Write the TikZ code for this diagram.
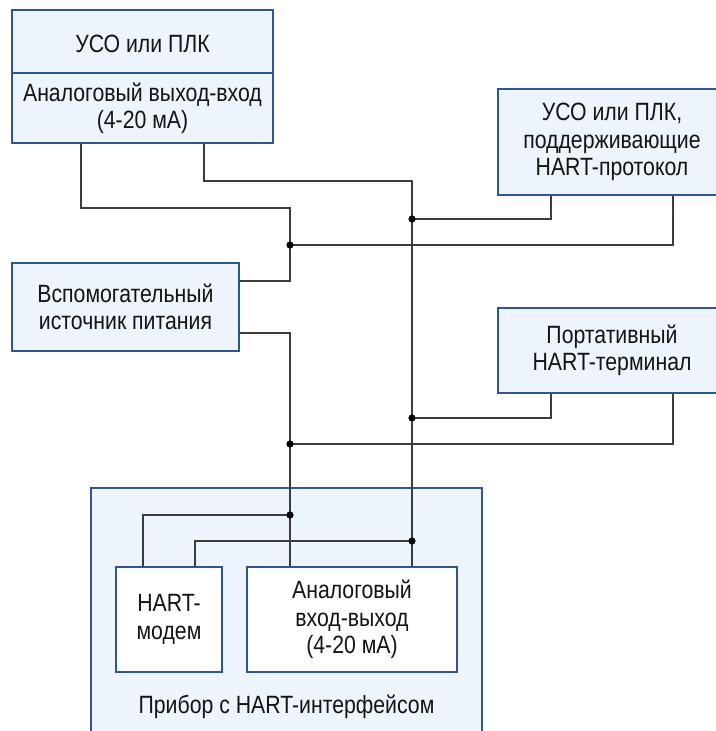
\documentclass[tikz,border=0pt]{standalone}
\usepackage{fontspec}
\setmainfont{Liberation Sans}[FakeStretch=0.85]
\definecolor{boxblue}{HTML}{2D5699}
\definecolor{boxfill}{HTML}{EDF4FC}
\definecolor{wire}{HTML}{3C3C3C}
\definecolor{txt}{HTML}{141414}
\begin{document}
\begin{tikzpicture}[x=1pt,y=-1pt,
  every node/.style={text=txt,font=\fontsize{25}{27.5}\selectfont,inner sep=0pt},
  blk/.style={draw=boxblue,fill=boxfill,line width=2.8pt,inner sep=0pt},
  inblk/.style={draw=boxblue,fill=white,line width=2.8pt,inner sep=0pt},
  wirel/.style={draw=wire,line width=1.5pt},
  dotj/.style={fill=black}]
\useasboundingbox (0,0) rectangle (715,731);
% device outer box
\node[blk,minimum width=391pt,minimum height=252pt] (dev) at (286.5,614) {};
\node (devlbl) at (286.5,707) {Прибор с HART-интерфейсом};
% top left box
\node[blk,minimum width=261pt,minimum height=133pt] (box1) at (142.5,76.5) {};
\draw[draw=boxblue,line width=2.8pt] (box1.west |- 0,73) -- (box1.east |- 0,73);
\node (t1) at (142.5,44) {УСО или ПЛК};
\node[align=center] (t2) at (142.5,108.5) {Аналоговый выход-вход\\(4-20 мА)};
% right boxes
\node[blk,minimum width=228pt,minimum height=106pt,align=center] (box2) at (612,142) {УСО или ПЛК,\\поддерживающие\\HART-протокол};
\node[blk,minimum width=228pt,minimum height=85pt,align=center] (box3) at (612,350.5) {Портативный\\HART-терминал};
% aux supply
\node[blk,minimum width=227pt,minimum height=88pt,align=center] (aux) at (125.5,307) {Вспомогательный\\источник питания};
% column coordinates
\coordinate (xA) at (81,0);
\coordinate (xB) at (204,0);
\coordinate (xC) at (290,0);
\coordinate (xD) at (412,0);
\coordinate (xE) at (551,0);
\coordinate (xF) at (673,0);
\coordinate (xG) at (143,0);
\coordinate (xH) at (195,0);
% corners and junctions
\coordinate (k1) at (290,208);
\coordinate (k2) at (412,181);
\coordinate (auxT) at (239,281);
\coordinate (auxB) at (239,333);
\coordinate (j1) at (290,245);
\coordinate (j2) at (412,219);
\coordinate (j3) at (412,418);
\coordinate (j4) at (290,444);
\coordinate (j5) at (290,515);
\coordinate (j6) at (412,541);
% inner boxes
\node[inblk,minimum width=106pt,minimum height=105pt,align=center] (modem) at (169,619.5) {HART-\\модем};
\node[inblk,minimum width=210pt,minimum height=105pt,align=center] (aio) at (352,619.5) {Аналоговый\\вход-выход\\(4-20 мА)};
% wires
\draw[wirel] (box1.south -| xA) |- (k1) |- (auxT);
\draw[wirel] (box1.south -| xB) |- (k2) -- (aio.north -| xD);
\draw[wirel] (auxB) -| (aio.north -| xC);
\draw[wirel] (j1) -| (box2.south -| xF);
\draw[wirel] (j2) -| (box2.south -| xE);
\draw[wirel] (j3) -| (box3.south -| xE);
\draw[wirel] (j4) -| (box3.south -| xF);
\draw[wirel] (j5) -| (modem.north -| xG);
\draw[wirel] (j6) -| (modem.north -| xH);
% junction dots
\foreach \j in {j1,j2,j3,j4,j5,j6} \fill[dotj] (\j) circle[radius=3.6pt];
\end{tikzpicture}
\end{document}
